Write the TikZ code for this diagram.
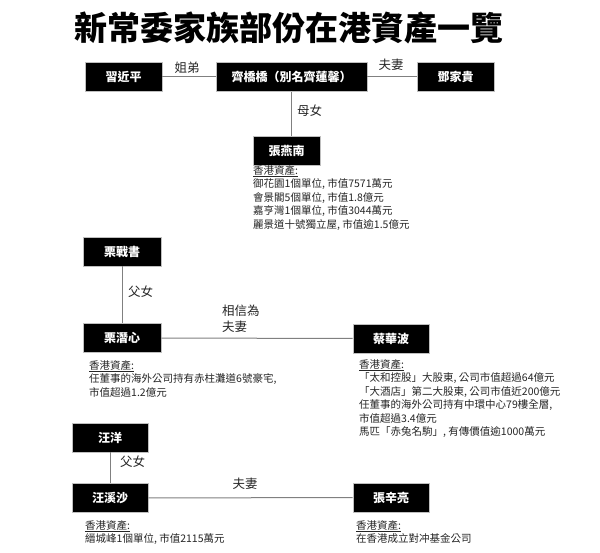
\documentclass[tikz,border=0pt]{standalone}
\usepackage{fontspec}
\setmainfont{Noto Sans CJK TC}
\begin{document}
\begin{tikzpicture}[x=1pt,y=-1pt]
\tikzset{
 person/.style={fill=black, draw=gray!50, line width=0.6pt, text=white, font=\fontsize{12}{14}\selectfont\bfseries, minimum height=29pt, inner sep=0pt},
 rel/.style={draw=black!50, line width=1pt},
 lab/.style={font=\fontsize{12.5}{16}\selectfont, inner sep=0pt, text=black!85},
 assets/.style={font=\fontsize{10.5}{13.5}\selectfont, align=left, anchor=north west, inner sep=0pt, text=black!85}
}
\fill[white] (0,0) rectangle (600,553);
\useasboundingbox (0,0) rectangle (600,553);

\node[font=\fontsize{33}{36}\selectfont\bfseries] (title) at (289,28) {新常委家族部份在港資產一覽};

\node[person, minimum width=77pt] (xi) at (123.5,77) {習近平};
\node[person, minimum width=151pt] (qi) at (291.5,77) {齊橋橋（別名齊蓮馨）};
\node[person, minimum width=77pt] (deng) at (455.5,77) {鄧家貴};
\node[person, minimum width=67pt] (zyn) at (286.5,150.5) {張燕南};
\node[person, minimum width=78pt] (lzs) at (122,251.5) {栗戰書};
\node[person, minimum width=78pt] (lqx) at (122,338) {栗潛心};
\node[person, minimum width=76pt] (cai) at (391,338.5) {蔡華波};
\node[person, minimum width=76pt] (wy) at (110,437.5) {汪洋};
\node[person, minimum width=76pt] (wxs) at (110,498) {汪溪沙};
\node[person, minimum width=76pt] (zxl) at (391,497.5) {張辛亮};

\draw[rel] (xi) -- (qi);
\draw[rel] (qi) -- (deng);
\draw[rel] (qi.south) -- (qi.south |- zyn.north);
\draw[rel] (lzs) -- (lqx);
\draw[rel] (lqx) -- (cai);
\draw[rel] (wy) -- (wxs);
\draw[rel] (wxs) -- (zxl);

\node[lab] (l1) at (187,68) {姐弟};
\node[lab] (l2) at (391,65) {夫妻};
\node[lab, anchor=west] (l3) at (297,111) {母女};
\node[lab, anchor=west] (l4) at (128,292) {父女};
\node[lab, anchor=north west, align=left] (l5) at (222,305) {相信為\\夫妻};
\node[lab, anchor=west] (l6) at (120,462) {父女};
\node[lab] (l7) at (245,484) {夫妻};

\node[assets] (a1) at (253,165) {\underline{香港資產:}\\御花園1個單位, 市值7571萬元\\會景閣5個單位, 市值1.8億元\\嘉亨灣1個單位, 市值3044萬元\\麗景道十號獨立屋, 市值逾1.5億元};
\node[assets] (a2) at (89,360) {\underline{香港資產:}\\任董事的海外公司持有赤柱灘道6號豪宅,\\市值超過1.2億元};
\node[assets] (a3) at (359,359) {\underline{香港資產:}\\「太和控股」大股東, 公司市值超過64億元\\「大酒店」第二大股東, 公司市值近200億元\\任董事的海外公司持有中環中心79樓全層,\\市值超過3.4億元\\馬匹「赤兔名駒」, 有傳價值逾1000萬元};
\node[assets] (a4) at (85,520) {\underline{香港資產:}\\縉城峰1個單位, 市值2115萬元};
\node[assets] (a5) at (356,520) {\underline{香港資產:}\\在香港成立對冲基金公司};
\end{tikzpicture}
\end{document}
